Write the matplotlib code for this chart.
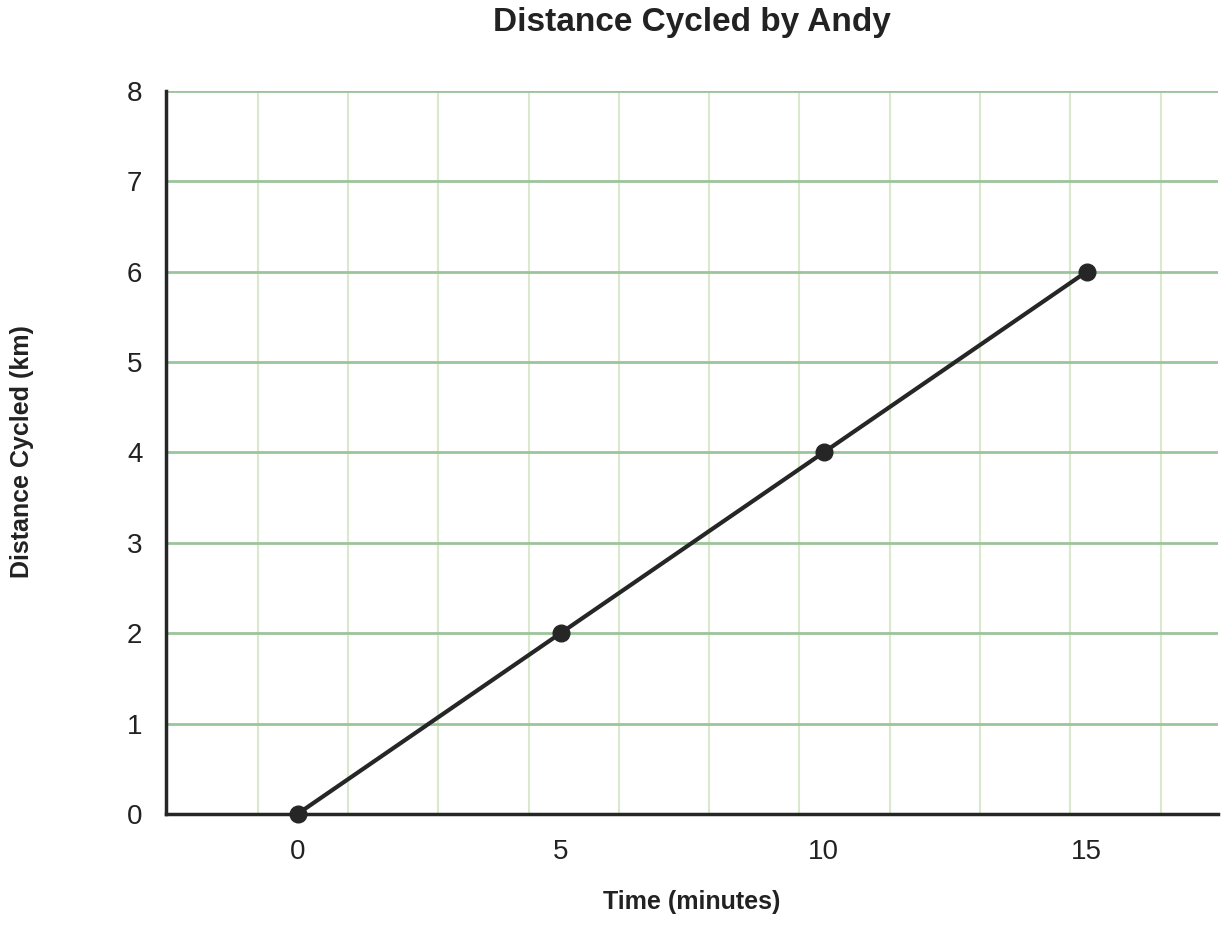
import matplotlib
matplotlib.use("Agg")
import matplotlib.pyplot as plt
import numpy as np

plt.rcParams['font.family'] = ['Liberation Sans', 'DejaVu Sans']

# data
time_min = [0, 5, 10, 15]
distance_km = [0, 2, 4, 6]
x_ticks = [0, 5, 10, 15]
y_ticks = [0, 1, 2, 3, 4, 5, 6, 7, 8]

fig = plt.figure(figsize=(12.28, 9.26), dpi=100)
ax = fig.add_axes([0.1352, 0.121, 0.8567, 0.7807])

ax.set_xlim(-2.5, 17.5)
ax.set_ylim(0, 8)

# light vertical grid (not on tick positions in the original)
for xv in -0.76 + 1.717 * np.arange(11):
    ax.axvline(xv, color='#d9e9cd', lw=1.5, zorder=0)
# horizontal grid
for yv in y_ticks[1:]:
    ax.axhline(yv, color='#9cc49c', lw=2, zorder=1)

ax.plot(time_min, distance_km, color='#262626', lw=3, marker='o', ms=12, zorder=3, clip_on=False)

ax.set_xticks(x_ticks)
ax.set_yticks(y_ticks)
ax.tick_params(length=0, labelsize=20, colors='#222222')
ax.tick_params(axis='x', pad=18)
ax.tick_params(axis='y', pad=17)

for s in ['top', 'right']:
    ax.spines[s].set_visible(False)
for s in ['left', 'bottom']:
    ax.spines[s].set_linewidth(2.5)
    ax.spines[s].set_color('#262626')
    ax.spines[s].set_zorder(4)

fig.text(692 / 1228, 1 - 23 / 926, 'Distance Cycled by Andy', fontsize=24, fontweight='bold',
         color='#222222', ha='center', va='center')
fig.text(692 / 1228, 1 - 902 / 926, 'Time (minutes)', fontsize=18, fontweight='bold',
         color='#222222', ha='center', va='center')
fig.text(22 / 1228, 1 - 452 / 926, 'Distance Cycled (km)', fontsize=18, fontweight='bold',
         color='#222222', ha='center', va='center', rotation=90)

fig.savefig('out.png', dpi=100)
